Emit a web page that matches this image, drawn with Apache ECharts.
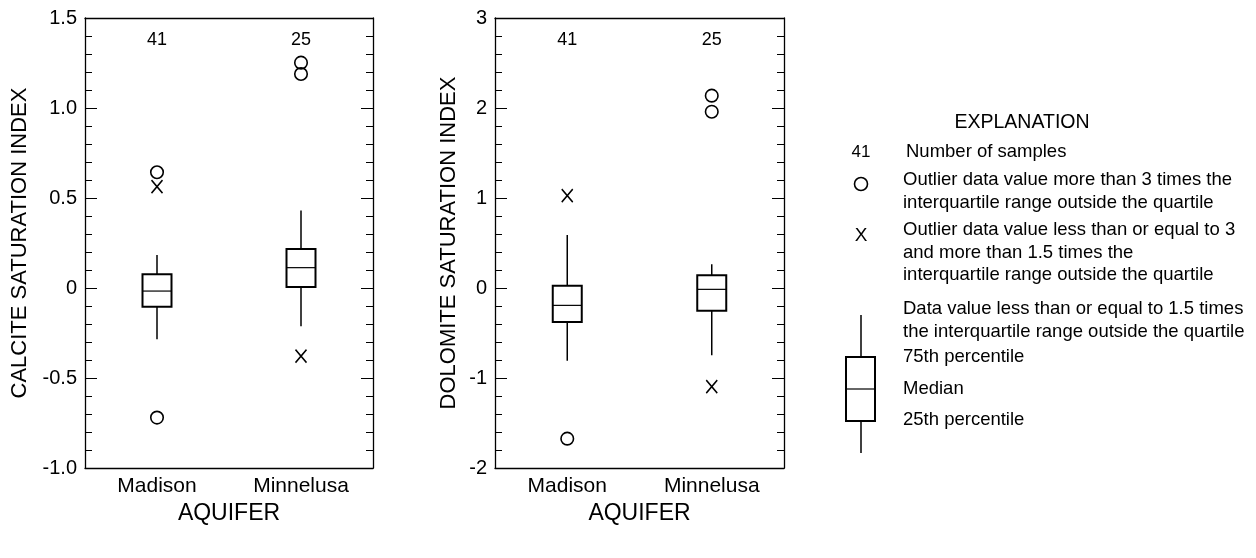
<!DOCTYPE html>
<html>
<head>
<meta charset="utf-8">
<script src="https://cdn.jsdelivr.net/npm/echarts@6/dist/echarts.min.js"></script>
<style>
	html, body { margin: 0; padding: 0; background: #fff; }
	#chart { width: 1256px; height: 558px; }
</style>
</head>
<body>
<div id="chart"></div>
<script>
	/* ---------------------------------------------
     Data
--------------------------------------------- */
	const categories = ['Madison', 'Minnelusa'];
	const sampleCounts = [41, 25];

	// [lower whisker, 25th, median, 75th, upper whisker]
	const calciteBoxes = [
		[-0.285, -0.104, -0.017, 0.076, 0.183],
		[-0.213, 0.006, 0.113, 0.217, 0.43],
	];
	const calciteFarOutliers = [[0, 0.643], [0, -0.72], [1, 1.252], [1, 1.189]];
	const calciteNearOutliers = [[0, 0.563], [1, -0.378]];

	const dolomiteBoxes = [
		[-0.807, -0.378, -0.193, 0.026, 0.589],
		[-0.748, -0.252, -0.015, 0.141, 0.263],
	];
	const dolomiteFarOutliers = [[0, -1.674], [1, 2.137], [1, 1.959]];
	const dolomiteNearOutliers = [[0, 1.026], [1, -1.096]];

	const legendTitle = 'EXPLANATION';
	const legendSamples = 'Number of samples';
	const legendFar = ['Outlier data value more than 3 times the', 'interquartile range outside the quartile'];
	const legendNear = ['Outlier data value less than or equal to 3', 'and more than 1.5 times the', 'interquartile range outside the quartile'];
	const legendWhisker = ['Data value less than or equal to 1.5 times', 'the interquartile range outside the quartile'];
	const legendBox = ['75th percentile', 'Median', '25th percentile'];

	/* ---------------------------------------------
     Helpers
--------------------------------------------- */
	const FONT = '"Liberation Sans", Arial, Helvetica, sans-serif';
	const INK = '#000';

	function boxData(boxes) {
		return boxes.map((b, i) => [i].concat(b));
	}

	// box + whiskers without end caps, like the USGS style
	function renderBox(params, api) {
		const x = api.value(0);
		const lo = api.coord([x, api.value(1)]);
		const q1 = api.coord([x, api.value(2)]);
		const med = api.coord([x, api.value(3)]);
		const q3 = api.coord([x, api.value(4)]);
		const hi = api.coord([x, api.value(5)]);
		const half = 14.5;
		const cx = q1[0];
		const line = { stroke: INK, lineWidth: 1.5 };
		return {
			type: 'group',
			children: [
				{ type: 'line', shape: { x1: cx, y1: hi[1], x2: cx, y2: q3[1] }, style: line },
				{ type: 'line', shape: { x1: cx, y1: q1[1], x2: cx, y2: lo[1] }, style: line },
				{
					type: 'rect',
					shape: { x: cx - half, y: q3[1], width: half * 2, height: q1[1] - q3[1] },
					style: { fill: '#fff', stroke: INK, lineWidth: 2 },
				},
				{ type: 'line', shape: { x1: cx - half, y1: med[1], x2: cx + half, y2: med[1] }, style: { stroke: INK, lineWidth: 1.2 } },
			],
		};
	}

	function xAxes(gridIndex) {
		return [
			{
				type: 'category',
				gridIndex,
				data: categories,
				position: 'bottom',
				name: 'AQUIFER',
				nameLocation: 'middle',
				nameGap: 34,
				nameTextStyle: { color: INK, fontSize: 23, fontFamily: FONT },
				axisLine: { onZero: false, lineStyle: { color: INK, width: 1.3 } },
				axisTick: { inside: true, alignWithLabel: true, length: 10, lineStyle: { color: INK, width: 1 } },
				axisLabel: { color: INK, fontSize: 21, fontFamily: FONT, margin: 8 },
			},
			{
				type: 'category',
				gridIndex,
				data: sampleCounts.map(String),
				position: 'top',
				axisLine: { onZero: false, lineStyle: { color: INK, width: 1.3 } },
				axisTick: { inside: true, alignWithLabel: true, length: 8, lineStyle: { color: INK, width: 1 } },
				axisLabel: { inside: true, color: INK, fontSize: 18, fontFamily: FONT, margin: 13 },
			},
		];
	}

	function yAxes(gridIndex, min, max, interval, name, gap, fmt) {
		const common = {
			type: 'value',
			gridIndex,
			min,
			max,
			interval,
			splitLine: { show: false },
			axisLine: { show: true, onZero: false, lineStyle: { color: INK, width: 1.3 } },
			axisTick: { show: true, inside: true, length: 12, lineStyle: { color: INK, width: 1 } },
			minorTick: { show: true, splitNumber: 5, length: 7, lineStyle: { color: INK, width: 1 } },
		};
		return [
			Object.assign({}, common, {
				position: 'left',
				name,
				nameLocation: 'middle',
				nameGap: gap,
				nameTextStyle: { color: INK, fontSize: 22, fontFamily: FONT },
				axisLabel: { color: INK, fontSize: 20, fontFamily: FONT, margin: 8, formatter: fmt },
			}),
			Object.assign({}, common, {
				position: 'right',
				axisLabel: { show: false },
			}),
		];
	}

	function seriesFor(idx, boxes, far, near) {
		const axes = { xAxisIndex: idx * 2, yAxisIndex: idx * 2 };
		return [
			Object.assign({ type: 'custom', renderItem: renderBox, data: boxData(boxes), z: 2 }, axes),
			Object.assign({
				type: 'scatter',
				symbol: 'circle',
				symbolSize: 12.5,
				itemStyle: { color: 'rgba(0,0,0,0)', borderColor: INK, borderWidth: 1.6, opacity: 1 },
				data: far,
				z: 3,
			}, axes),
			Object.assign({
				type: 'scatter',
				symbol: 'path://M0,0L10,12M10,0L0,12',
				symbolSize: [11, 13],
				itemStyle: { color: 'rgba(0,0,0,0)', borderColor: INK, borderWidth: 1.6, opacity: 1 },
				data: near,
				z: 3,
			}, axes),
		];
	}

	/* ---------------------------------------------
     Explanation (legend illustration)
--------------------------------------------- */
	function legendText(text, x, y, size, align) {
		return {
			type: 'text',
			x,
			y,
			style: { text, fill: INK, font: `${size || 18.5}px ${FONT}`, align: align || 'left', verticalAlign: 'middle' },
		};
	}

	function buildLegend() {
		const tx = 903;
		const lh = 22.5;
		const g = [];
		g.push(legendText(legendTitle, 1022, 123, 19.5, 'center'));
		g.push(legendText('41', 861, 152, 17, 'center'));
		g.push(legendText(legendSamples, 906, 152));
		g.push({ type: 'circle', shape: { cx: 861, cy: 184, r: 6.5 }, style: { fill: 'none', stroke: INK, lineWidth: 1.6 } });
		legendFar.forEach((t, i) => g.push(legendText(t, tx, 180 + i * lh)));
		g.push(legendText('X', 861, 236, 19, 'center'));
		legendNear.forEach((t, i) => g.push(legendText(t, tx, 230 + i * lh)));
		legendWhisker.forEach((t, i) => g.push(legendText(t, tx, 309 + i * lh)));
		g.push(legendText(legendBox[0], tx, 357));
		g.push(legendText(legendBox[1], tx, 389));
		g.push(legendText(legendBox[2], tx, 420));
		g.push({ type: 'line', shape: { x1: 861, y1: 315, x2: 861, y2: 357 }, style: { stroke: INK, lineWidth: 1.5 } });
		g.push({ type: 'line', shape: { x1: 861, y1: 421, x2: 861, y2: 453 }, style: { stroke: INK, lineWidth: 1.5 } });
		g.push({ type: 'rect', shape: { x: 846, y: 357, width: 29, height: 64 }, style: { fill: 'none', stroke: INK, lineWidth: 2 } });
		g.push({ type: 'line', shape: { x1: 846, y1: 389, x2: 875, y2: 389 }, style: { stroke: INK, lineWidth: 1.2 } });
		return g;
	}

	/* ---------------------------------------------
     Chart
--------------------------------------------- */
	const chart = echarts.init(document.getElementById('chart'), null, { renderer: 'canvas' });

	const option = {
		backgroundColor: '#fff',
		animation: false,
		textStyle: { fontFamily: FONT },
		grid: [
			{ left: 85, top: 18, width: 288, height: 450 },
			{ left: 495, top: 18, width: 289, height: 450 },
		],
		xAxis: xAxes(0).concat(xAxes(1)),
		yAxis: yAxes(0, -1, 1.5, 0.5, 'CALCITE SATURATION INDEX', 54, (v) => (v === 0 ? '0' : v.toFixed(1)))
			.concat(yAxes(1, -2, 3, 1, 'DOLOMITE SATURATION INDEX', 35, (v) => String(v))),
		series: seriesFor(0, calciteBoxes, calciteFarOutliers, calciteNearOutliers)
			.concat(seriesFor(1, dolomiteBoxes, dolomiteFarOutliers, dolomiteNearOutliers)),
		graphic: buildLegend(),
	};

	chart.setOption(option);
</script>
</body>
</html>
